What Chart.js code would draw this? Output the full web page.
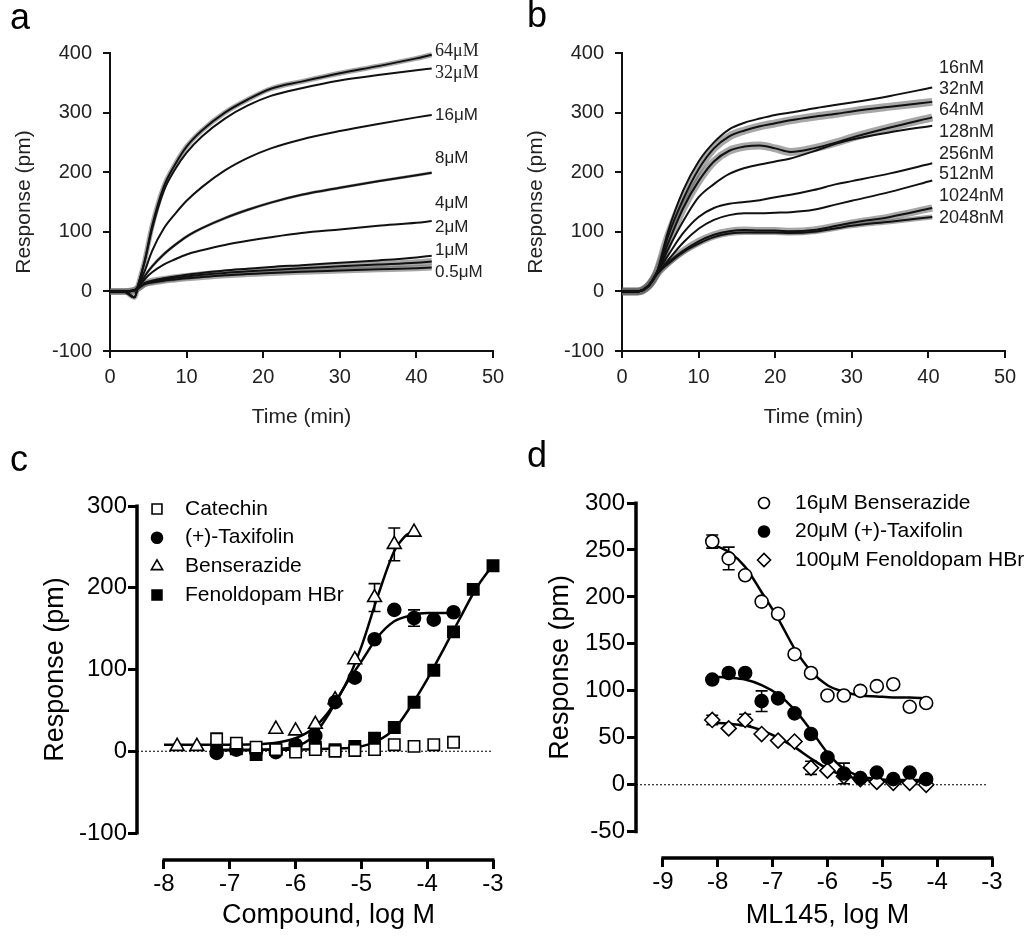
<!DOCTYPE html>
<html>
<head>
<meta charset="utf-8">
<script src="https://cdn.jsdelivr.net/npm/chart.js@4.4.1/dist/chart.umd.min.js"></script>
<style>
body { margin: 0; background: #fff; }
#wrap { position: relative; width: 1024px; height: 940px; overflow: hidden; font-family: Arial, "Liberation Sans", sans-serif; }
canvas { position: absolute; }
.lbl { position: absolute; white-space: nowrap; color: #222; font-size: 17px; line-height: 20px; }
.serif { font-family: "Times New Roman", "Liberation Serif", serif; font-size: 18px; }
.panel { position: absolute; font-size: 36px; line-height: 36px; color: #000; }
</style>
</head>
<body>
<div id="wrap">
  <canvas id="ca" width="512" height="470" style="left:0;top:0"></canvas>
  <canvas id="cb" width="512" height="470" style="left:512px;top:0"></canvas>
  <canvas id="cc" width="512" height="470" style="left:0;top:470px"></canvas>
  <canvas id="cd" width="512" height="470" style="left:512px;top:470px"></canvas>
  <div class="panel" style="left:10px;top:-1px">a</div>
  <div class="panel" style="left:527px;top:-3px">b</div>
  <div class="panel" style="left:10px;top:441px">c</div>
  <div class="panel" style="left:527px;top:437px">d</div>
</div>
<script>
// ---- panel a: kinetics, µM series
const timeA = [0, 1.8, 3.2, 3.7, 4.5, 5.5, 7, 8.5, 10, 12, 15, 18, 21, 25, 30, 35, 40, 42];
const concA = ['64μM', '32μM', '16μM', '8μM', '4μM', '2μM', '1μM', '0.5μM'];
const a64 = [0, 0, -10, 12, 50, 110, 175, 213, 243, 270, 300, 322, 340, 352, 366, 378, 391, 397];
const a32 = [0, 0, -10, 12, 48, 105, 168, 205, 233, 260, 290, 312, 328, 341, 354, 363, 371, 374];
const a16 = [0, 0, -10, 10, 33, 68, 105, 130, 152, 175, 203, 224, 240, 255, 269, 281, 292, 296];
const a8 = [0, 0, 2, 8, 25, 42, 62, 78, 92, 106, 123, 137, 149, 162, 174, 185, 195, 199];
const a4 = [0, 0, 2, 7, 20, 32, 45, 54, 62, 69, 78, 85, 91, 98, 104, 110, 115, 118];
const a2 = [0, 0, 2, 6, 14, 18, 22, 25, 28, 31, 35, 38, 41, 44, 48, 52, 57, 60];
const a1 = [0, 0, 2, 6, 13, 17, 20, 23, 25, 28, 31, 34, 36, 39, 42, 45, 48, 50];
const a05 = [0, 0, 2, 5, 12, 15, 18, 20, 22, 24, 27, 29, 31, 33, 35, 37, 39, 40];

// ---- panel b: kinetics, nM series
const timeB = [0, 2, 3.5, 4.5, 6, 8, 10, 12, 14, 16, 18, 20, 22, 25, 28, 30, 35, 40.5];
const concB = ['16nM', '32nM', '64nM', '128nM', '256nM', '512nM', '1024nM', '2048nM'];
const b16 = [0, 0, 10, 30, 100, 170, 218, 250, 272, 283, 290, 296, 300, 307, 313, 317, 328, 342];
const b32 = [0, 0, 10, 30, 92, 155, 205, 240, 260, 270, 277, 282, 287, 293, 298, 302, 310, 318];
const b64 = [0, 0, 10, 30, 80, 140, 185, 218, 236, 243, 245, 240, 234, 240, 250, 258, 275, 292];
const b128 = [0, 0, 10, 30, 70, 118, 158, 180, 197, 207, 213, 218, 223, 235, 248, 255, 267, 278];
const b256 = [0, 0, 10, 30, 60, 98, 125, 140, 147, 150, 153, 158, 162, 170, 180, 185, 198, 215];
const b512 = [0, 0, 10, 28, 52, 82, 105, 120, 128, 131, 131, 132, 133, 137, 146, 152, 167, 186];
const b1024 = [0, 0, 10, 28, 48, 68, 84, 95, 101, 103, 102, 102, 101, 103, 110, 115, 125, 140];
const b2048 = [0, 0, 10, 28, 46, 66, 80, 91, 97, 99, 99, 99, 98, 100, 106, 110, 117, 125];

// ---- panel c: dose response
const logC = [-7.8, -7.5, -7.2, -6.9, -6.6, -6.3, -6.0, -5.7, -5.4, -5.1, -4.8, -4.5, -4.2, -3.9, -3.6, -3.3, -3.0];
const catechin = [null, null, 15, 10, 5, 2, -1, 2, 0, 1, 2, 8, 6, 8, 11, null, null];
const catechinErr = [0, 0, 7, 0, 0, 0, 0, 0, 0, 0, 0, 0, 0, 0, 0, 0, 0];
const taxifolin = [null, null, -2, 2, 0, -1, 8, 19, 60, 90, 137, 173, 163, 161, 170, null, null];
const taxifolinErr = [0, 0, 0, 0, 0, 0, 0, 0, 0, 0, 0, 0, 10, 0, 0, 0, 0];
const benserazide = [6, 6, null, null, null, 27, 25, 33, 63, 112, 188, 253, 268, null, null, null, null];
const benserazideErr = [0, 0, 0, 0, 0, 0, 0, 0, 0, 0, 17, 20, 0, 0, 0, 0, 0];
const fenoldopam = [null, null, 3, 3, -4, 2, 2, 5, 2, 6, 16, 29, 60, 99, 146, 198, 227];
const fenoldopamErr = [0, 0, 0, 0, 0, 0, 0, 0, 0, 0, 0, 0, 0, 0, 0, 6, 0];
const fitLogBen = [-8, -7, -6.5, -6.25, -6, -5.75, -5.5, -5.25, -5, -4.75, -4.5, -4.35, -4.2];
const fitBen = [8, 8, 9, 11, 16, 27, 48, 80, 128, 190, 245, 262, 270];
const fitLogTax = [-7.2, -6.5, -6, -5.75, -5.5, -5.25, -5, -4.75, -4.5, -4.25, -4, -3.6];
const fitTax = [1, 2, 6, 17, 45, 80, 110, 140, 159, 166, 169, 169];
const fitLogFen = [-7.2, -6, -5.5, -5, -4.75, -4.5, -4.25, -4, -3.75, -3.5, -3.25, -3];
const fitFen = [2, 2, 3, 6, 13, 27, 55, 88, 125, 163, 200, 228];
const zeroLogC = [-8.41, -3];
const ticksXC = [-8, -7, -6, -5, -4, -3];
const ticksYC = [-100, 0, 100, 200, 300];

// ---- panel d: ML145 inhibition
const logD = [-8.1, -7.8, -7.5, -7.2, -6.9, -6.6, -6.3, -6.0, -5.7, -5.4, -5.1, -4.8, -4.5, -4.2];
const benD = [259, 241, 223, 195, 182, 139, 119, 95, 95, 100, 105, 107, 83, 87];
const benDErr = [7, 12, 0, 0, 0, 0, 0, 0, 0, 0, 0, 0, 0, 0];
const taxD = [112, 119, 119, 89, 92, 76, 54, 29, 12, 7, 13, 6, 13, 6];
const taxDErr = [0, 0, 0, 11, 0, 0, 0, 0, 11, 0, 0, 0, 0, 0];
const fenD = [69, 60, 69, 54, 47, 46, 18, 15, 9, 6, 3, 2, 2, 0];
const fenDErr = [5, 0, 6, 0, 0, 0, 7, 0, 0, 0, 0, 0, 0, 0];
const fitBenD = [256, 248, 232, 205, 177, 145, 121, 106, 99, 95, 94, 93, 93, 92];
const fitTaxD = [115, 114, 112, 106, 96, 80, 58, 34, 17, 9, 6, 5, 5, 5];
const fitFenD = [66, 65, 63, 58, 50, 40, 28, 17, 10, 6, 4, 4, 3.5, 3.5];
const zeroLogD = [-9.49, -3.1];
const ticksXD = [-9, -8, -7, -6, -5, -4, -3];
const ticksYD = [-50, 0, 50, 100, 150, 200, 250, 300];

Chart.defaults.font.family = 'Arial, "Liberation Sans", sans-serif';
Chart.defaults.animation = false;
Chart.defaults.events = [];
Chart.defaults.plugins.legend.display = false;
Chart.defaults.plugins.tooltip.enabled = false;

const xy = (xs, ys) => xs.map((x, i) => ({ x: x, y: ys[i] }));

// error bars, drawn under the markers
const errorBars = {
  id: 'errorBars',
  beforeDatasetsDraw(chart) {
    const { ctx, scales: { x, y } } = chart;
    chart.data.datasets.forEach(ds => {
      if (!ds.errors) return;
      ds.data.forEach((p, j) => {
        const e = ds.errors[j];
        if (!e || p.y == null) return;
        const px = x.getPixelForValue(p.x);
        const t = y.getPixelForValue(p.y + e), b = y.getPixelForValue(p.y - e);
        ctx.save();
        ctx.strokeStyle = '#000';
        ctx.lineWidth = 1.6;
        ctx.beginPath();
        ctx.moveTo(px, t); ctx.lineTo(px, b);
        ctx.moveTo(px - 6, t); ctx.lineTo(px + 6, t);
        ctx.moveTo(px - 6, b); ctx.lineTo(px + 6, b);
        ctx.stroke();
        ctx.restore();
      });
    });
  }
};

// detached prism style axis lines + titles
const prismAxes = {
  id: 'prismAxes',
  afterDraw(chart, args, o) {
    if (!o.yRange) return;
    const { ctx, chartArea: a, scales: { x, y } } = chart;
    const y0 = y.getPixelForValue(o.yRange[0]), y1 = y.getPixelForValue(o.yRange[1]);
    const x0 = x.getPixelForValue(o.xRange[0]), x1 = x.getPixelForValue(o.xRange[1]);
    ctx.save();
    ctx.strokeStyle = '#000';
    ctx.lineWidth = 3.5;
    ctx.beginPath();
    ctx.moveTo(a.left, y0 + 1.5); ctx.lineTo(a.left, y1 - 1.5);
    ctx.moveTo(x0 - 1.5, a.bottom); ctx.lineTo(x1 + 1.5, a.bottom);
    ctx.stroke();
    ctx.fillStyle = '#000';
    ctx.font = '27px Arial, "Liberation Sans", sans-serif';
    ctx.textAlign = 'center';
    ctx.textBaseline = 'middle';
    ctx.fillText(o.xTitle, (x0 + x1) / 2, a.bottom + o.xTitleOffset);
    ctx.translate(a.left - o.yTitleOffset, (y0 + y1) / 2);
    ctx.rotate(-Math.PI / 2);
    ctx.fillText(o.yTitle, 0, 0);
    ctx.restore();
  }
};

// legend drawn inside the plot
const keyBox = {
  id: 'keyBox',
  afterDraw(chart, args, o) {
    if (o.x == null) return;
    const ctx = chart.ctx;
    let row = 0;
    chart.data.datasets.forEach(ds => {
      if (!ds.inKey) return;
      const cy = o.y + row * o.dy;
      ctx.save();
      ctx.fillStyle = ds.backgroundColor;
      ctx.strokeStyle = ds.borderColor;
      ctx.lineWidth = ds.borderWidth;
      Chart.helpers.drawPoint(ctx, { pointStyle: ds.pointStyle, radius: ds.keyRadius, borderWidth: ds.borderWidth, rotation: 0 }, o.x, cy);
      ctx.fillStyle = '#000';
      ctx.font = '21px Arial, "Liberation Sans", sans-serif';
      ctx.textAlign = 'left';
      ctx.textBaseline = 'middle';
      ctx.fillText(ds.label, o.x + o.gap, cy);
      ctx.restore();
      row++;
    });
  }
};

Chart.register(errorBars, prismAxes, keyBox);

function curve(times, vals) {
  return { data: xy(times, vals), showLine: true, pointRadius: 0, borderColor: '#111', borderWidth: 2,
           cubicInterpolationMode: 'monotone', clip: false, order: 1 };
}
function band(times, vals, w) {
  return { data: xy(times, vals), showLine: true, pointRadius: 0, borderColor: 'rgba(95,95,95,0.55)', borderWidth: w,
           cubicInterpolationMode: 'monotone', clip: false, order: 2 };
}

function kineticOptions() {
  const tickFont = { size: 20 };
  return {
    responsive: false,
    layout: { padding: { left: 8, top: 53, right: 19, bottom: 40 } },
    scales: {
      x: {
        type: 'linear', min: 0, max: 50,
        ticks: { stepSize: 10, font: tickFont, color: '#222', padding: 7, maxRotation: 0 },
        grid: { drawOnChartArea: false, drawTicks: true, tickLength: 7, color: '#111', lineWidth: 2 },
        border: { display: true, color: '#111', width: 2 },
        title: { display: true, text: 'Time (min)', font: { size: 21 }, color: '#222', padding: 0 },
        afterFit: s => { s.height = 79; }
      },
      y: {
        min: -100, max: 400,
        ticks: { stepSize: 100, font: tickFont, color: '#222', padding: 11 },
        grid: { drawOnChartArea: false, drawTicks: true, tickLength: 7, color: '#111', lineWidth: 2 },
        border: { display: true, color: '#111', width: 2 },
        title: { display: true, text: 'Response (pm)', font: { size: 21 }, color: '#222', padding: { top: 4, bottom: 0 } },
        afterFit: s => { s.width = 102; }
      }
    }
  };
}

new Chart(document.getElementById('ca'), {
  type: 'scatter',
  data: {
    datasets: [
      curve(timeA, a64), curve(timeA, a32), curve(timeA, a16), curve(timeA, a8),
      curve(timeA, a4), curve(timeA, a2), curve(timeA, a1), curve(timeA, a05),
      band(timeA, a64, 5), band(timeA, a8, 3), band(timeA, a1, 7), band(timeA, a05, 6)
    ]
  },
  options: kineticOptions()
});

new Chart(document.getElementById('cb'), {
  type: 'scatter',
  data: {
    datasets: [
      curve(timeB, b16), curve(timeB, b32), curve(timeB, b64), curve(timeB, b128),
      curve(timeB, b256), curve(timeB, b512), curve(timeB, b1024), curve(timeB, b2048),
      band(timeB, b32, 8), band(timeB, b64, 8), band(timeB, b1024, 7), band(timeB, b2048, 5)
    ]
  },
  options: kineticOptions()
});

function marker(label, xs, ys, errs, style, filled, r, keyR) {
  return { label: label, data: xy(xs, ys), errors: errs, pointStyle: style, pointRadius: r,
           backgroundColor: filled ? '#000' : '#fff', borderColor: '#000', borderWidth: 1.6,
           inKey: true, keyRadius: keyR, clip: false, order: 0 };
}
function fit(xs, ys) {
  return { data: xy(xs, ys), showLine: true, pointRadius: 0, borderColor: '#000', borderWidth: 2.5,
           cubicInterpolationMode: 'monotone', clip: false, order: 1 };
}
function zeroLine(xs) {
  return { data: xs.map(x => ({ x: x, y: 0 })), showLine: true, pointRadius: 0, borderColor: '#000',
           borderWidth: 1.2, borderDash: [2, 2], clip: false, order: 3 };
}

function doseOptions(p) {
  const tickFont = { size: 24 };
  return {
    responsive: false,
    layout: { padding: p.pad },
    scales: {
      x: {
        type: 'linear', min: p.xMin, max: p.xMax,
        afterBuildTicks: s => { s.ticks = p.xTicks.map(v => ({ value: v })); },
        ticks: { font: tickFont, color: '#000', padding: 1, autoSkip: false, maxRotation: 0 },
        grid: { drawOnChartArea: false, drawTicks: true, tickLength: 9, color: '#000', lineWidth: 3 },
        border: { display: false },
        afterFit: s => { s.height = 60; }
      },
      y: {
        min: p.yMin, max: p.yMax,
        afterBuildTicks: s => { s.ticks = p.yTicks.map(v => ({ value: v })); },
        ticks: { font: tickFont, color: '#000', padding: p.yPad, autoSkip: false },
        grid: { drawOnChartArea: false, drawTicks: true, tickLength: 9, color: '#000', lineWidth: 3 },
        border: { display: false },
        afterFit: s => { s.width = p.yWidth; }
      }
    },
    plugins: {
      prismAxes: { yRange: p.yRange, xRange: p.xRange, xTitle: p.xTitle, yTitle: 'Response (pm)',
                   xTitleOffset: p.xTitleOffset, yTitleOffset: p.yTitleOffset },
      keyBox: p.key
    }
  };
}

new Chart(document.getElementById('cc'), {
  type: 'scatter',
  data: {
    datasets: [
      marker('Catechin', logC, catechin, catechinErr, 'rect', false, 8, 7),
      marker('(+)-Taxifolin', logC, taxifolin, taxifolinErr, 'circle', true, 6.5, 5.5),
      marker('Benserazide', logC, benserazide, benserazideErr, 'triangle', false, 8, 6.5),
      marker('Fenoldopam HBr', logC, fenoldopam, fenoldopamErr, 'rect', true, 8, 7),
      fit(fitLogBen, fitBen), fit(fitLogTax, fitTax), fit(fitLogFen, fitFen),
      zeroLine(zeroLogC)
    ]
  },
  options: doseOptions({
    pad: { left: 10, top: 36, right: 19, bottom: 20 },
    xMin: -8.41, xMax: -3, yMin: -133, yMax: 300, xTicks: ticksXC, yTicks: ticksYC,
    yWidth: 127, yPad: 1, yRange: [-100, 300], xRange: [-8, -3],
    xTitle: 'Compound, log M', xTitleOffset: 56, yTitleOffset: 81,
    key: { x: 157, y: 39, dy: 28.7, gap: 28 }
  })
});

new Chart(document.getElementById('cd'), {
  type: 'scatter',
  data: {
    datasets: [
      marker('16μM Benserazide', logD, benD, benDErr, 'circle', false, 6.5, 5.5),
      marker('20μM (+)-Taxifolin', logD, taxD, taxDErr, 'circle', true, 6.5, 5.5),
      marker('100μM Fenoldopam HBr', logD, fenD, fenDErr, 'rectRot', false, 7.5, 6.5),
      fit(logD, fitBenD), fit(logD, fitTaxD), fit(logD, fitFenD),
      zeroLine(zeroLogD)
    ]
  },
  options: doseOptions({
    pad: { left: 10, top: 33, right: 32, bottom: 22 },
    xMin: -9.49, xMax: -3, yMin: -78, yMax: 300, xTicks: ticksXD, yTicks: ticksYD,
    yWidth: 114, yPad: 2, yRange: [-50, 300], xRange: [-9, -3],
    xTitle: 'ML145, log M', xTitleOffset: 58, yTitleOffset: 75,
    key: { x: 252, y: 33, dy: 28.5, gap: 31 }
  })
});

// curve labels at the right end of panels a and b
const labelTopA = [50, 72, 115, 158, 203, 227, 250, 272];
const labelTopB = [67, 88, 109, 131, 153, 173, 195, 217];
const wrap = document.getElementById('wrap');
concA.forEach((t, i) => {
  const d = document.createElement('div');
  d.className = i < 2 ? 'lbl serif' : 'lbl';
  d.textContent = t;
  d.style.left = '435px';
  d.style.top = (labelTopA[i] - 10) + 'px';
  wrap.appendChild(d);
});
concB.forEach((t, i) => {
  const d = document.createElement('div');
  d.className = 'lbl';
  d.style.fontSize = '18px';
  d.textContent = t;
  d.style.left = '939px';
  d.style.top = (labelTopB[i] - 10) + 'px';
  wrap.appendChild(d);
});
</script>
</body>
</html>
